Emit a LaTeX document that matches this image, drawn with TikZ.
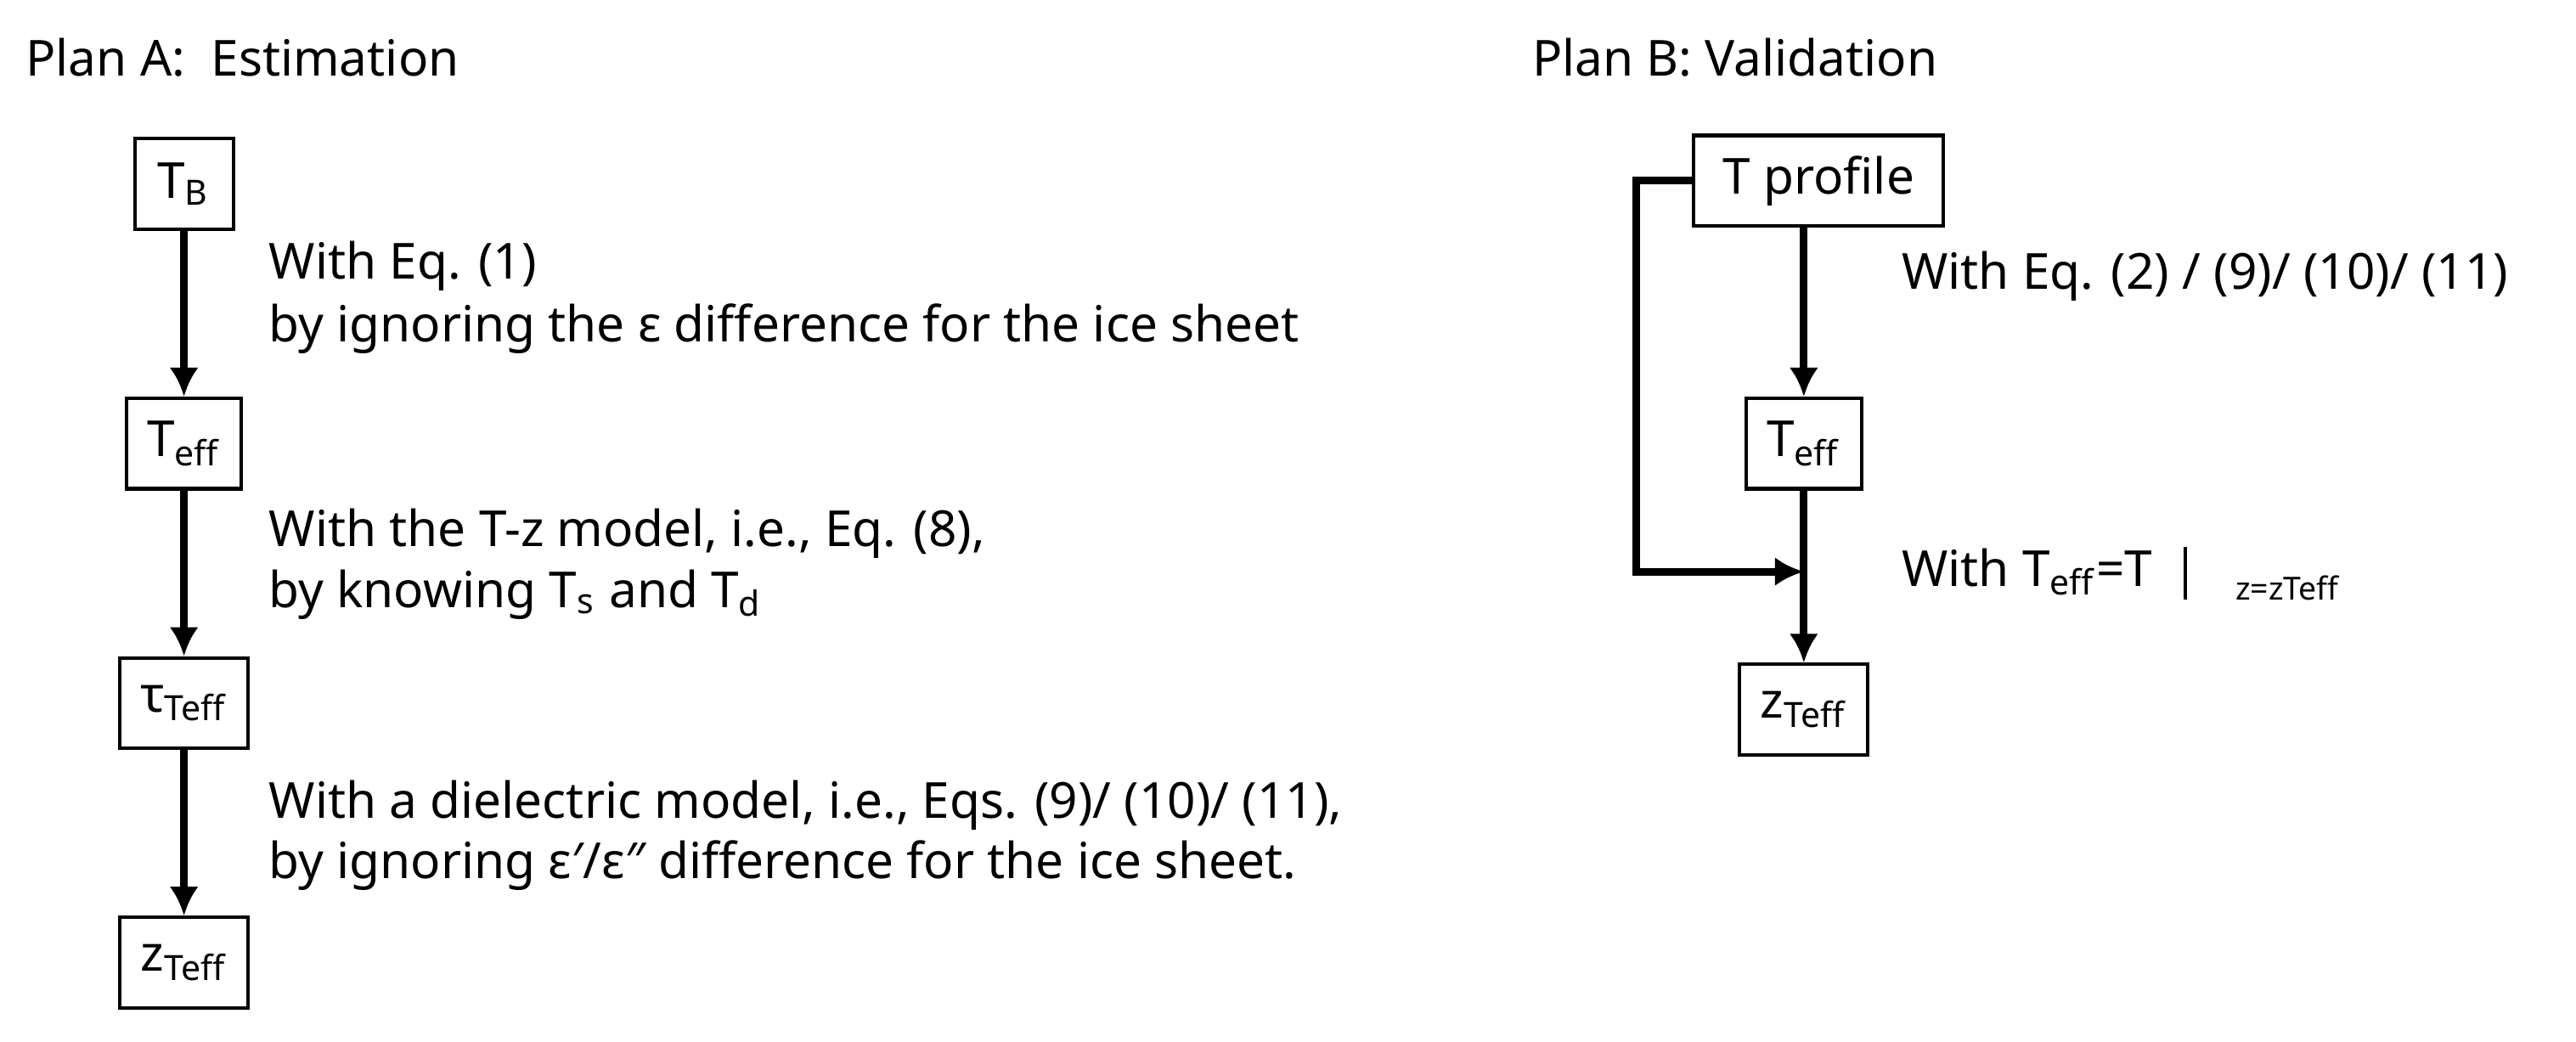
\documentclass[tikz,border=0pt]{standalone}
\usepackage{fontspec}
\setmainfont{Noto Sans}
\usetikzlibrary{arrows.meta}
\begin{document}
\begin{tikzpicture}[x=0.01cm,y=-0.01cm,
  font=\fontsize{8.6}{10}\selectfont,
  box/.style={draw,line width=0.6pt,inner sep=0pt,minimum height=0.55cm},
  arr/.style={line width=1.3pt,-{Latex[length=5pt,width=5pt]}},
  lbl/.style={anchor=west,inner sep=0pt}]
\useasboundingbox (0,0) rectangle (1568,634);
\node[lbl] (ta) at (15,35) {Plan A:\ \ Estimation};
\node[lbl] (tb) at (932,35) {Plan B: Validation};
% Plan A
\node[box,minimum width=0.6cm] (a1) at (112,112) {T\textsubscript{B}};
\node[box,minimum width=0.7cm] (a2) at (112,270) {T\textsubscript{eff}};
\node[box,minimum width=0.78cm] (a3) at (112,428) {τ\textsubscript{Teff}};
\node[box,minimum width=0.78cm] (a4) at (112,586) {z\textsubscript{Teff}};
\draw[arr] (a1) -- (a2);
\draw[arr] (a2) -- (a3);
\draw[arr] (a3) -- (a4);
\node[lbl] (l1) at (163,162) {With Eq. (1)};
\node[lbl] (l2) at (163,200) {by ignoring the ε difference for the ice sheet};
\node[lbl] (l3) at (163,325) {With the T-z model, i.e., Eq. (8),};
\node[lbl] (l4) at (163,362) {by knowing T\textsubscript{s} and T\textsubscript{d}};
\node[lbl] (l5) at (163,490) {With a dielectric model, i.e., Eqs. (9)/ (10)/ (11),};
\node[lbl] (l6) at (163,527) {by ignoring ε′/ε″ difference for the ice sheet.};
% Plan B
\node[box,minimum width=1.52cm] (b1) at (1107,110) {T profile};
\node[box,minimum width=0.7cm] (b2) at (1098,270) {T\textsubscript{eff}};
\node[box,minimum width=0.78cm] (b3) at (1098,432) {z\textsubscript{Teff}};
\coordinate (j) at (1098,348);
\draw[arr] (b1.south -| b2) -- (b2);
\draw[arr] (b2) -- (b3);
\draw[arr] (b1.west) -- ++(-34,0) |- (j);
\node[lbl] (l7) at (1157,168) {With Eq. (2) / (9)/ (10)/ (11)};
\node[lbl] (l8) at (1157,348) {With T\textsubscript{eff}=T};
\draw[line width=0.6pt] (1330,333) -- (1330,365);
\node[lbl,font=\fontsize{5.5}{6}\selectfont] (l9) at (1360,358) {z=zTeff};
\end{tikzpicture}
\end{document}
